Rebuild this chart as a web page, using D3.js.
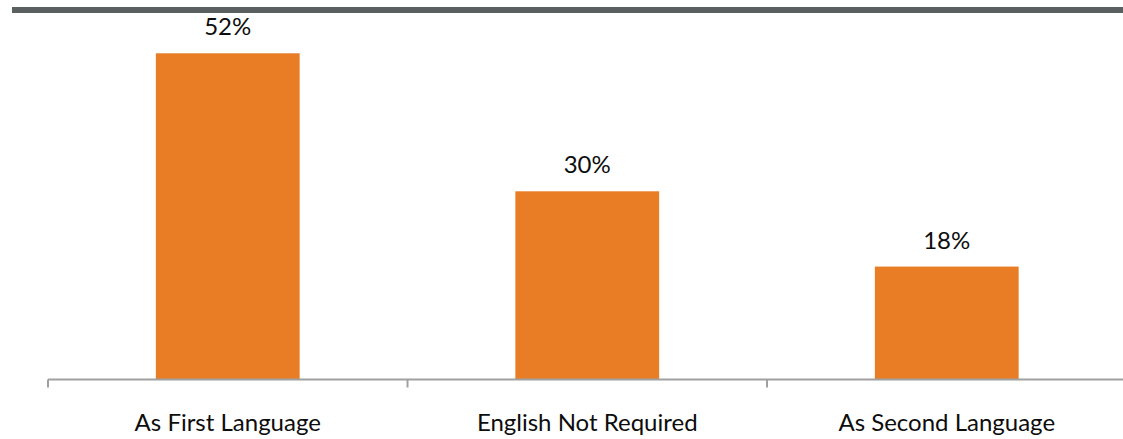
<!DOCTYPE html>
<html>
<head>
<meta charset="utf-8">
<script src="https://cdn.jsdelivr.net/npm/d3@7"></script>
<style>
  html, body { margin: 0; padding: 0; background: #fff; }
  svg { display: block; }
  text { font-family: Lato, "Open Sans", sans-serif; fill: #0d0d0d; }
</style>
</head>
<body>
<svg id="chart" width="1123" height="439"></svg>
<script>
const categories = ["As First Language", "English Not Required", "As Second Language"];
const values = [52, 30, 18];
const valueLabels = ["52%", "30%", "18%"];
const yDomain = [0, 60];

const W = 1123, H = 439;
const svg = d3.select("#chart");

// top decorative rule
svg.append("rect").attr("x", 12).attr("y", 7).attr("width", W - 12).attr("height", 6).attr("fill", "#5a5f60");

const x = d3.scaleBand().domain(categories).range([48, 1126.5]).paddingInner(0).paddingOuter(0);
const y = d3.scaleLinear().domain(yDomain).range([379.5, 3.1]);
const barW = x.bandwidth() / 2.5;

svg.selectAll("rect.bar").data(categories).join("rect")
  .attr("class", "bar")
  .attr("x", d => x(d) + (x.bandwidth() - barW) / 2)
  .attr("width", barW)
  .attr("y", (d, i) => y(values[i]))
  .attr("height", (d, i) => y(0) - y(values[i]))
  .attr("fill", "#e87d26");

// axis
const axisG = svg.append("g").attr("transform", `translate(0,${y(0)})`);
axisG.append("line").attr("x1", 48).attr("x2", W).attr("y1", 0).attr("y2", 0)
  .attr("stroke", "#a0a0a0").attr("stroke-width", 2);
const tickXs = categories.map(c => x(c)).concat([x.range()[1]]);
axisG.selectAll("line.tick").data(tickXs).join("line").attr("class", "tick")
  .attr("x1", d => d).attr("x2", d => d).attr("y1", 0).attr("y2", 8)
  .attr("stroke", "#a0a0a0").attr("stroke-width", 2);

svg.selectAll("text.cat").data(categories).join("text")
  .attr("class", "cat")
  .attr("x", d => x(d) + x.bandwidth() / 2)
  .attr("y", 431)
  .attr("text-anchor", "middle")
  .style("font-size", "24px")
  .text(d => d);

svg.selectAll("text.val").data(categories).join("text")
  .attr("class", "val")
  .attr("x", d => x(d) + x.bandwidth() / 2)
  .attr("y", (d, i) => y(values[i]) - 18)
  .attr("text-anchor", "middle")
  .style("font-size", "24px")
  .text((d, i) => valueLabels[i]);
</script>
</body>
</html>
